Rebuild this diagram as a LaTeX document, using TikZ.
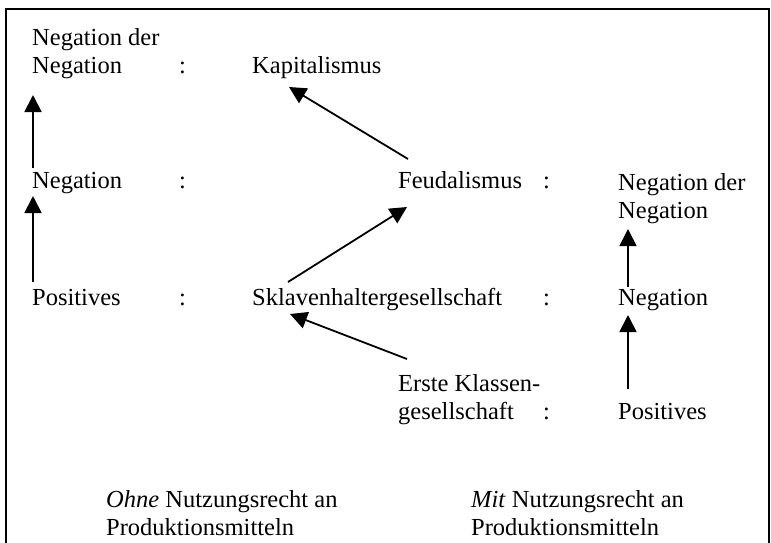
\documentclass[tikz,border=0pt]{standalone}
\usepackage{fontspec}
\setmainfont{Liberation Serif}
\usetikzlibrary{arrows.meta,calc}
\tikzset{
  lbl/.style={anchor=base west, inner sep=0pt, align=left, font=\fontsize{24.5}{28}\selectfont},
  arr/.style={line width=1.8pt, -{Triangle[width=17pt,length=17pt]}},
  frame/.style={line width=2pt}
}
\begin{document}
\begin{tikzpicture}[x=1pt,y=-1pt]
\useasboundingbox (0,0) rectangle (771,542);
\draw[frame] (6,543) -- (6,9) -- (769,9) -- (769,543);
% row 1 (multi-line nodes: base = last line)
\node[lbl] (nn1) at (32,73) {Negation der\\Negation};
\node[lbl] (c1) at (179,73) {:};
\node[lbl] (kap) at (252,73) {Kapitalismus};
% row 2
\node[lbl] (neg1) at (32,188) {Negation};
\node[lbl] (c2) at (179,188) {:};
\node[lbl] (feud) at (398,188) {Feudalismus};
\node[lbl] (c3) at (543,188) {:};
\node[lbl] (nn2) at (618,218) {Negation der\\Negation};
% row 3
\node[lbl] (pos1) at (32,305) {Positives};
\node[lbl] (c4) at (179,305) {:};
\node[lbl] (skl) at (252,305) {Sklavenhaltergesellschaft};
\node[lbl] (c5) at (543,305) {:};
\node[lbl] (neg2) at (618,305) {Negation};
% row 4
\node[lbl] (erste) at (398,419) {Erste Klassen-\\gesellschaft};
\node[lbl] (c6) at (543,419) {:};
\node[lbl] (pos2) at (618,419) {Positives};
% bottom
\node[lbl] (ohne) at (106,535) {\textit{Ohne} Nutzungsrecht an\\Produktionsmitteln};
\node[lbl] (mit) at (471,535) {\textit{Mit} Nutzungsrecht an\\Produktionsmitteln};
% arrows
\draw[arr] ($(neg1.base west)+(1,-20)$) -- ($(nn1.base west)+(1,22)$);
\draw[arr] ($(pos1.base west)+(1,-23)$) -- ($(neg1.base west)+(1,8)$);
\draw[arr] ($(feud.base west)+(10,-29)$) -- ($(kap.base west)+(37,14)$);
\draw[arr] ($(skl.base west)+(36,-23)$) -- ($(feud.base west)+(9,19)$);
\draw[arr] ($(erste.base west)+(9,-60)$) -- ($(skl.base west)+(38,9)$);
\draw[arr] ($(neg2.base west)+(10,-18)$) -- ($(nn2.base west)+(10,11)$);
\draw[arr] ($(pos2.base west)+(10,-30)$) -- ($(neg2.base west)+(10,10)$);
\end{tikzpicture}
\end{document}
